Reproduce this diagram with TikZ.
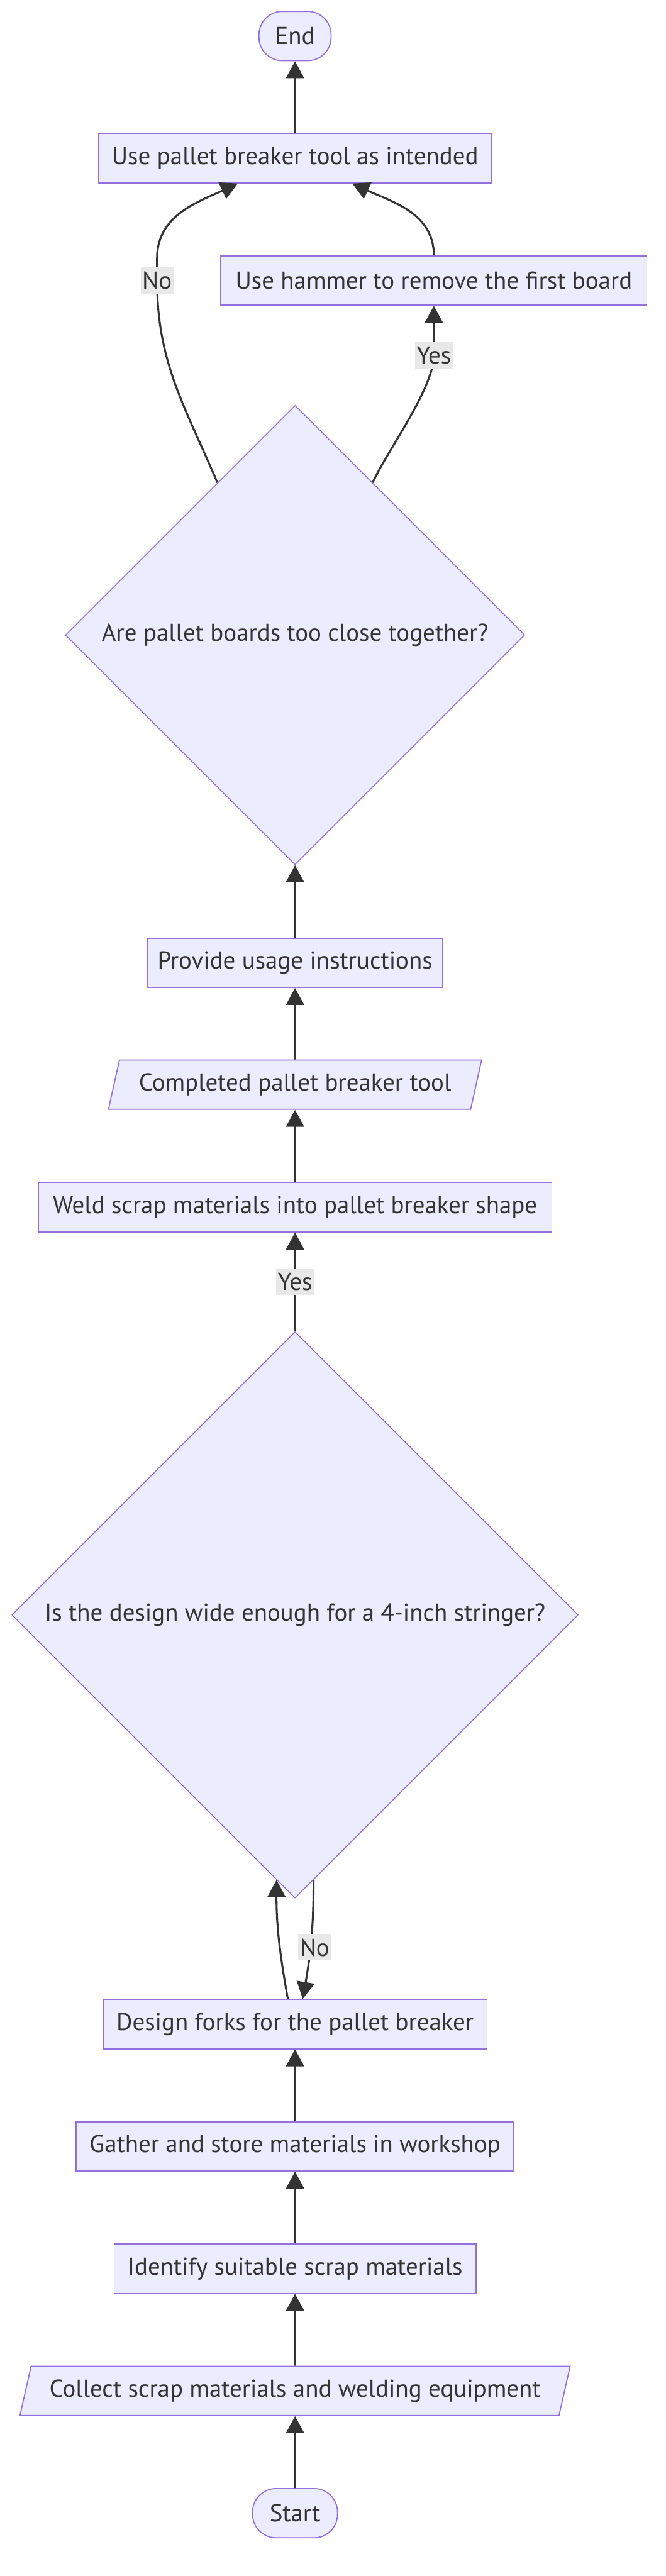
\documentclass[tikz,border=0pt]{standalone}
\usepackage{fontspec}
\setsansfont{PT Sans}
\usetikzlibrary{arrows.meta,shapes.geometric}
\definecolor{mmFill}{HTML}{ECECFF}
\definecolor{mmLine}{HTML}{9370DB}
\definecolor{mmEdge}{HTML}{333333}
\definecolor{mmLbl}{HTML}{E8E8E8}

\begin{document}
\begin{tikzpicture}[font=\sffamily\fontsize{16.4}{19}\selectfont]
  \tikzset{
    box/.style={draw=mmLine,line width=0.75pt,fill=mmFill,text=mmEdge,minimum height=1.16cm,inner sep=0pt},
    term/.style={box,rounded corners=0.55cm},
    io/.style={box,trapezium,trapezium left angle=63.8,trapezium right angle=116.2,trapezium stretches body},
    ask/.style={box,diamond,aspect=1,line width=0.6pt},
    lbl/.style={fill=mmLbl,text=mmEdge,inner xsep=1pt,inner ysep=0pt,minimum height=0.62cm},
    flow/.style={draw=mmEdge,line width=1.3pt,-{Triangle[length=0.4cm,width=0.42cm]}}
  }
  \useasboundingbox (0,0) rectangle (15.68,60.68);
  % chain of steps, read from the bottom up
  \node[term,minimum width=2.0cm] (start) at (6.95,1.48) {Start};
  \node[io,minimum width=12.96cm] (collect) at (6.95,4.36) {Collect scrap materials and welding equipment};
  \node[box,minimum width=8.52cm] (identify) at (6.95,7.24) {Identify suitable scrap materials};
  \node[box,minimum width=10.31cm] (gather) at (6.95,10.12) {Gather and store materials in workshop};
  \node[box,minimum width=9.05cm] (design) at (6.95,13.00) {Design forks for the pallet breaker};
  \node[ask,minimum width=13.34cm,minimum height=13.34cm] (wide) at (6.95,22.64) {Is the design wide enough for a 4-inch stringer?};
  \node[box,minimum width=12.10cm] (weld) at (6.95,32.24) {Weld scrap materials into pallet breaker shape};
  \node[io,minimum width=8.79cm] (tool) at (6.95,35.13) {Completed pallet breaker tool};
  \node[box,minimum width=6.97cm] (howto) at (6.95,38.00) {Provide usage instructions};
  \node[ask,minimum width=10.82cm,minimum height=10.82cm] (close) at (6.95,45.72) {Are pallet boards too close together?};
  \node[box,minimum width=10.03cm] (hammer) at (10.22,54.07) {Use hammer to remove the first board};
  \node[box,minimum width=9.26cm] (use) at (6.95,56.95) {Use pallet breaker tool as intended};
  \node[term,minimum width=1.70cm] (end) at (6.95,59.83) {End};
  % connectors
  \draw[flow] (start) -- (collect);
  \draw[flow] (collect) -- (identify);
  \draw[flow] (identify) -- (gather);
  \draw[flow] (gather) -- (design);
  \draw[flow] ([xshift=-0.17cm]design.north) to[out=100,in=-90] (wide.266);
  \draw[flow] (wide.274) to[out=-90,in=80] node[lbl,pos=0.57,xshift=1mm] {No} ([xshift=0.18cm]design.north);
  \draw[flow] (wide) -- node[lbl] {Yes} (weld);
  \draw[flow] (weld) -- (tool);
  \draw[flow] (tool) -- (howto);
  \draw[flow] (howto) -- (close);
  \draw[flow] (close.117) to[out=113,in=-90] (3.70,54.07) node[lbl] {No} -- (3.70,54.6) to[out=90,in=-155] ([xshift=-1.35cm]use.south);
  \draw[flow] (close.63) to[out=66,in=-90,looseness=0.6] (10.22,52.31) node[lbl] {Yes} -- (hammer);
  \draw[flow] (hammer) to[out=90,in=-25] ([xshift=1.35cm]use.south);
  \draw[flow] (use) -- (end);
\end{tikzpicture}
\end{document}
